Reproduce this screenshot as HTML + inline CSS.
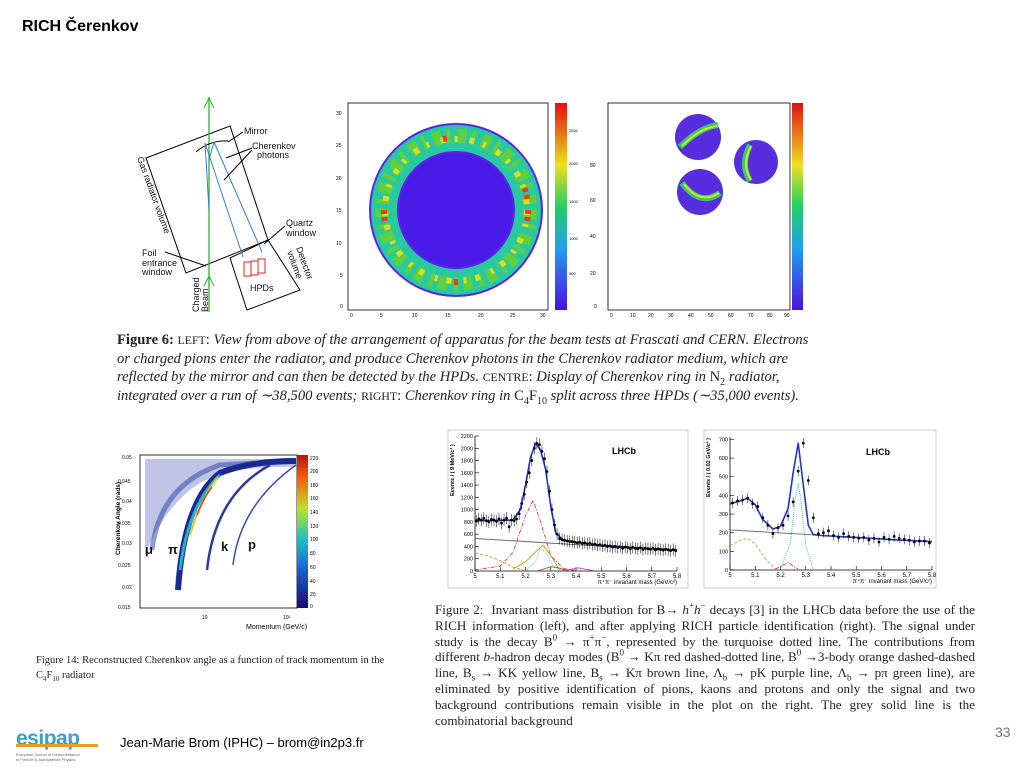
<!DOCTYPE html>
<html><head><meta charset="utf-8">
<style>
html,body{margin:0;padding:0;background:#fff;}
body{width:1024px;height:768px;position:relative;overflow:hidden;font-family:"Liberation Sans",sans-serif;}
.cap{position:absolute;font-family:"Liberation Serif",serif;color:#222;}
.cap sup,.cap sub{line-height:0;}
svg text{font-family:"Liberation Sans",sans-serif;}
</style></head>
<body>
<div style="position:absolute;left:22px;top:18px;font-size:16px;font-weight:bold;">RICH Čerenkov</div>

<!-- Apparatus diagram -->
<svg style="position:absolute;left:0;top:0" width="340" height="320">
 <polygon points="146,158 230,126 268,240 186,273" fill="none" stroke="#000" stroke-width="1"/>
 <polygon points="230,258 268,240 300,290 247,310" fill="none" stroke="#000" stroke-width="1"/>
 <line x1="209" y1="97" x2="209" y2="312" stroke="#2bb52b" stroke-width="1.3"/>
 <polyline points="204,108 209,98 214,108" fill="none" stroke="#2bb52b"/>
 <polyline points="204,286 209,276 214,286" fill="none" stroke="#2bb52b"/>
 <path d="M196,152 Q210,140 228,141" fill="none" stroke="#000"/>
 <polyline points="205,143 243,257" fill="none" stroke="#3a7bd5"/>
 <polyline points="214,142 262,252" fill="none" stroke="#3a7bd5"/>
 <polyline points="205,143 209,210" fill="none" stroke="#3a7bd5"/>
 <polyline points="214,142 209,160" fill="none" stroke="#3a7bd5"/>
 <g fill="none" stroke="#e02020"><rect x="244" y="262" width="7" height="14"/><rect x="251" y="261" width="7" height="14"/><rect x="258" y="259" width="7" height="14"/></g>
 <g font-family="Liberation Serif" font-size="9" fill="#111">
  <text x="244" y="134">Mirror</text>
  <text x="252" y="149">Cherenkov</text><text x="257" y="158">photons</text>
  <text x="286" y="226">Quartz</text><text x="286" y="236">window</text>
  <text x="142" y="256">Foil</text><text x="142" y="266">entrance</text><text x="142" y="275">window</text>
  <text x="250" y="291">HPDs</text>
  <text transform="translate(137,158) rotate(70)">Gas radiator volume</text>
  <text transform="translate(296,248) rotate(70)">Detector</text><text transform="translate(287,252) rotate(70)">volume</text>
  <text transform="translate(199,312) rotate(-90)">Charged</text><text transform="translate(208,312) rotate(-90)">Beam</text>
 </g>
 <g stroke="#000" fill="none"><line x1="243" y1="132" x2="228" y2="142"/><line x1="252" y1="148" x2="226" y2="158"/><line x1="252" y1="150" x2="224" y2="180"/><line x1="285" y1="226" x2="264" y2="244"/><line x1="165" y1="252" x2="206" y2="266"/></g>
</svg>

<!-- Centre ring image -->
<svg style="position:absolute;left:330px;top:95px" width="250" height="230">
 <rect x="18" y="8" width="200" height="207" fill="#fff" stroke="#000" stroke-width="0.8"/>
 <circle cx="126" cy="115" r="87" fill="#5a24e8"/>
 <circle cx="126" cy="115" r="72" fill="none" stroke="#28c8a0" stroke-width="26"/>
 <circle cx="126" cy="115" r="74" fill="none" stroke="#60d040" stroke-width="14" stroke-dasharray="9 5 4 7"/>
 <circle cx="126" cy="115" r="71" fill="none" stroke="#d8e020" stroke-width="6" stroke-dasharray="5 9 3 12"/>
 <circle cx="126" cy="115" r="72" fill="none" stroke="#e84018" stroke-width="6" stroke-dasharray="4 3 4 100 4 100"/>
 <circle cx="126" cy="115" r="57" fill="#4a1be8"/>
 <g font-size="5" fill="#000"><text x="6" y="20">30</text><text x="6" y="52">25</text><text x="6" y="85">20</text><text x="6" y="117">15</text><text x="6" y="150">10</text><text x="10" y="182">5</text><text x="10" y="213">0</text>
 <text x="20" y="222">0</text><text x="50" y="222">5</text><text x="82" y="222">10</text><text x="115" y="222">15</text><text x="148" y="222">20</text><text x="180" y="222">25</text><text x="210" y="222">30</text></g>
 <defs><linearGradient id="cb" x1="0" y1="1" x2="0" y2="0"><stop offset="0" stop-color="#4a10e0"/><stop offset="0.3" stop-color="#20a0f0"/><stop offset="0.5" stop-color="#20d060"/><stop offset="0.7" stop-color="#f0e020"/><stop offset="1" stop-color="#e01010"/></linearGradient></defs>
 <rect x="225" y="8" width="12" height="207" fill="url(#cb)"/>
 <g font-size="4" fill="#000"><text x="239" y="37">2500</text><text x="239" y="70">2000</text><text x="239" y="108">1500</text><text x="239" y="145">1000</text><text x="239" y="180">500</text></g>
</svg>

<!-- Right ring image -->
<svg style="position:absolute;left:590px;top:95px" width="230" height="230">
 <rect x="18" y="8" width="182" height="207" fill="#fff" stroke="#000" stroke-width="0.8"/>
 <g fill="#5a2ce0"><circle cx="108" cy="42" r="23"/><circle cx="166" cy="67" r="22"/><circle cx="110" cy="97" r="23"/></g>
 <g fill="none" stroke-width="6" stroke="#2ad070"><path d="M90,52 Q110,32 128,30"/><path d="M160,50 Q150,70 160,86"/><path d="M92,88 Q110,112 130,98"/></g>
 <g fill="none" stroke-width="2" stroke="#e0e020"><path d="M92,51 Q110,33 127,31"/><path d="M161,51 Q151,70 161,85"/><path d="M94,89 Q110,110 129,98"/></g>
 <g font-size="5" fill="#000"><text x="0" y="72">80</text><text x="0" y="107">60</text><text x="0" y="143">40</text><text x="0" y="180">20</text><text x="4" y="213">0</text>
 <text x="20" y="222">0</text><text x="40" y="222">10</text><text x="58" y="222">20</text><text x="78" y="222">30</text><text x="98" y="222">40</text><text x="118" y="222">50</text><text x="138" y="222">60</text><text x="158" y="222">70</text><text x="177" y="222">80</text><text x="194" y="222">90</text></g>
 <rect x="202" y="8" width="11" height="207" fill="url(#cb)"/>
</svg>

<div class="cap" style="left:117px;top:331px;width:706px;font-size:14.6px;line-height:18.5px;">
<b>Figure 6:</b> <span style="font-size:11.8px">LEFT</span>: <i>View from above of the arrangement of apparatus for the beam tests at Frascati and CERN. Electrons or charged pions enter the radiator, and produce Cherenkov photons in the Cherenkov radiator medium, which are reflected by the mirror and can then be detected by the HPDs.</i> <span style="font-size:11.8px">CENTRE</span>: <i>Display of Cherenkov ring in</i> N<sub style="font-size:10px">2</sub> <i>radiator, integrated over a run of ∼38,500 events;</i> <span style="font-size:11.8px">RIGHT</span>: <i>Cherenkov ring in</i> C<sub style="font-size:10px">4</sub>F<sub style="font-size:10px">10</sub> <i>split across three HPDs (∼35,000 events).</i>
</div>

<!-- Cherenkov angle vs momentum -->
<svg style="position:absolute;left:100px;top:445px" width="240" height="195">
 <rect x="40" y="10" width="157" height="153" fill="#fff" stroke="#000" stroke-width="0.8"/>
 <path d="M45,14 L196,14 L196,22 Q120,20 90,45 Q60,70 45,110 Z" fill="#3040b0" opacity="0.3"/>
 <path d="M52,105 Q60,40 120,20 L196,16" fill="none" stroke="#2a3aa0" stroke-width="5" opacity="0.5"/>
 <path d="M78,145 Q84,55 120,28 Q150,16 196,16" fill="none" stroke="#1a2a90" stroke-width="6"/>
 <path d="M80,125 Q88,60 120,30" fill="none" stroke="#20b0d0" stroke-width="3"/>
 <path d="M90,90 Q100,55 118,32" fill="none" stroke="#f0c020" stroke-width="2"/>
 <path d="M97,70 Q104,52 112,42" fill="none" stroke="#e04020" stroke-width="1.5"/>
 <path d="M107,125 Q115,50 170,20" fill="none" stroke="#2a3aa0" stroke-width="2.5"/>
 <path d="M133,120 Q140,60 196,20" fill="none" stroke="#3a4ab0" stroke-width="1.5"/>
 <g font-size="5" fill="#000"><text x="22" y="14">0.05</text><text x="18" y="38">0.045</text><text x="22" y="58">0.04</text><text x="18" y="80">0.035</text><text x="22" y="100">0.03</text><text x="18" y="122">0.025</text><text x="22" y="144">0.02</text><text x="18" y="164">0.015</text><text x="102" y="174">10</text><text x="183" y="174">10²</text></g>
 <text x="146" y="184" font-size="7">Momentum (GeV/c)</text>
 <text transform="translate(20,110) rotate(-90)" font-size="6.5" font-weight="bold">Cherenkov Angle (rads)</text>
 <g font-size="13" font-weight="bold" fill="#111"><text x="45" y="109">μ</text><text x="68" y="109">π</text><text x="121" y="106">k</text><text x="148" y="104">p</text></g>
 <defs><linearGradient id="cb2" x1="0" y1="1" x2="0" y2="0"><stop offset="0" stop-color="#1a0a70"/><stop offset="0.25" stop-color="#1a60d0"/><stop offset="0.45" stop-color="#20c0c0"/><stop offset="0.65" stop-color="#c0e020"/><stop offset="0.85" stop-color="#f06010"/><stop offset="1" stop-color="#c01010"/></linearGradient></defs>
 <rect x="197" y="10" width="11" height="153" fill="url(#cb2)"/>
 <g font-size="5" fill="#000"><text x="210" y="15">220</text><text x="210" y="28">200</text><text x="210" y="42">180</text><text x="210" y="55">160</text><text x="210" y="69">140</text><text x="210" y="83">120</text><text x="210" y="96">100</text><text x="210" y="110">80</text><text x="210" y="124">60</text><text x="210" y="138">40</text><text x="210" y="151">20</text><text x="210" y="163">0</text></g>
</svg>
<div class="cap" style="left:36px;top:653px;width:370px;font-size:10.5px;line-height:15px;">Figure 14: Reconstructed Cherenkov angle as a function of track momentum in the C<sub style="font-size:7px">4</sub>F<sub style="font-size:7px">10</sub> radiator</div>

<!-- Mass plots -->
<svg id="mass" style="position:absolute;left:0;top:0" width="1024" height="600"></svg>

<div class="cap" style="left:435px;top:602px;width:540px;font-size:13.1px;line-height:15.8px;text-align:justify;">Figure 2: &nbsp;Invariant mass distribution for B→ <i>h</i><sup style="font-size:9px">+</sup><i>h</i><sup style="font-size:9px">−</sup> decays [3] in the LHCb data before the use of the RICH information (left), and after applying RICH particle identification (right). The signal under study is the decay B<sup style="font-size:9px">0</sup> → π<sup style="font-size:9px">+</sup>π<sup style="font-size:9px">−</sup>, represented by the turquoise dotted line. The contributions from different <i>b</i>-hadron decay modes (B<sup style="font-size:9px">0</sup> → Kπ red dashed-dotted line, B<sup style="font-size:9px">0</sup> →3-body orange dashed-dashed line, B<sub style="font-size:9px">s</sub> → KK yellow line, B<sub style="font-size:9px">s</sub> → Kπ brown line, Λ<sub style="font-size:9px">b</sub> → pK purple line, Λ<sub style="font-size:9px">b</sub> → pπ green line), are eliminated by positive identification of pions, kaons and protons and only the signal and two background contributions remain visible in the plot on the right. The grey solid line is the combinatorial background</div>

<div style="position:absolute;left:995px;top:724px;font-size:14px;color:#777;">33</div>
<div style="position:absolute;left:16px;top:728px;width:100px;height:36px;">
 <div style="font-size:21px;font-weight:bold;color:#3aa0c8;letter-spacing:-0.5px;line-height:22px;">esipap</div>
 <div style="position:absolute;left:0;top:16px;width:82px;height:3px;background:#e8a020;"></div>
 <div style="font-size:4px;color:#666;margin-top:2px;line-height:5px;">European School of Instrumentation<br>in Particle &amp; Astroparticle Physics</div>
</div>
<div style="position:absolute;left:120px;top:735px;font-size:13px;">Jean-Marie Brom (IPHC) – brom@in2p3.fr</div>

<script>
// Left plot data (bins of 0.01 GeV)
const leftX0 = 5.0, leftStep = 0.01;
const leftData = [820,850,830,860,820,800,840,830,810,850,780,830,860,720,830,820,850,930,1100,1250,1450,1600,1800,2000,2080,2060,1950,1830,1620,1300,1000,750,600,530,510,500,490,480,480,470,460,470,450,460,440,455,430,440,420,430,410,420,400,410,390,400,380,395,370,390,380,360,385,370,360,380,350,370,360,355,370,345,360,350,340,355,345,330,350,330];
const leftFitX = [5.0,5.1,5.15,5.18,5.2,5.22,5.24,5.26,5.28,5.3,5.32,5.35,5.4,5.5,5.6,5.7,5.8];
const leftFit  = [820,825,830,1000,1400,1850,2080,1970,1650,1050,620,500,465,420,390,365,340];
const leftCombX = [5.0,5.8]; const leftComb = [530,330];
const leftRedX = [5.0,5.1,5.15,5.2,5.23,5.26,5.3,5.35,5.4]; const leftRed = [20,80,300,900,1150,800,250,40,5];
const leftOrX = [5.0,5.05,5.1,5.15,5.2]; const leftOr = [290,250,170,60,5];
const leftYelX = [5.15,5.2,5.25,5.27,5.3,5.33,5.36]; const leftYel = [30,150,350,420,250,50,5];
const leftCyanX = [5.2,5.24,5.26,5.28,5.31,5.34]; const leftCyan = [5,150,380,300,80,5];
const leftBrX = [5.25,5.3,5.33,5.37]; const leftBr = [5,70,50,5];
const leftPuX = [5.35,5.41,5.47]; const leftPu = [5,50,5];
const leftYTicks = [0,200,400,600,800,1000,1200,1400,1600,1800,2000,2200];
// Right plot data (bins of 0.02 GeV)
const rightX0 = 5.0, rightStep = 0.02;
const rightData = [360,370,375,385,355,340,280,240,195,225,240,290,365,530,680,480,280,195,200,210,185,175,195,180,175,170,175,160,170,150,175,165,180,170,165,160,150,155,155,145];
const rightFitX = [5.0,5.04,5.07,5.1,5.13,5.17,5.2,5.23,5.25,5.27,5.29,5.31,5.33,5.36,5.5,5.65,5.8];
const rightFit  = [355,370,385,350,270,220,235,330,520,680,460,240,190,185,175,162,152];
const rightCombX = [5.0,5.8]; const rightComb = [215,150];
const rightOrX = [5.0,5.04,5.07,5.1,5.14,5.18]; const rightOr = [130,160,170,140,60,5];
const rightRedX = [5.18,5.23,5.27]; const rightRed = [5,40,5];
const rightCyanX = [5.2,5.24,5.26,5.27,5.28,5.3,5.33]; const rightCyan = [5,150,400,465,380,130,5];
const rightYTicks = [0,100,200,300,400,500,600,700];
const xTicks = [5,5.1,5.2,5.3,5.4,5.5,5.6,5.7,5.8];

const svg = document.getElementById('mass');
const NS = 'http://www.w3.org/2000/svg';
function mk(tag, attrs){const e=document.createElementNS(NS,tag);for(const k in attrs)e.setAttribute(k,attrs[k]);svg.appendChild(e);return e;}

function plot(P){
  const sx = v => P.x0 + (v-5)/0.8*(P.x1-P.x0);
  const sy = v => P.y0 - v/P.ymax*(P.y0-P.y1);
  const f = mk('rect',{x:P.fx,y:P.fy,width:P.fw,height:P.fh,fill:'#fff',stroke:'#aaa','stroke-width':0.6});
  
  
  mk('line',{x1:P.x0,y1:P.y0,x2:P.x1,y2:P.y0,stroke:'#000','stroke-width':0.8});
  mk('line',{x1:P.x0,y1:P.y0,x2:P.x0,y2:P.y1,stroke:'#000','stroke-width':0.8});
  xTicks.forEach(t=>{const x=sx(t);mk('line',{x1:x,y1:P.y0,x2:x,y2:P.y0-4,stroke:'#000','stroke-width':0.6});
    const tx=mk('text',{x:x,y:P.y0+7,'font-size':6,'text-anchor':'middle'});tx.textContent=String(t);
    
    });
  P.yt.forEach(t=>{const y=sy(t);mk('line',{x1:P.x0,y1:y,x2:P.x0+4,y2:y,stroke:'#000','stroke-width':0.6});
    const tx=mk('text',{x:P.x0-2,y:y+2,'font-size':5.5,'text-anchor':'end'});tx.textContent=String(t);
    
    });
  const xl=mk('text',{x:P.x1,y:P.y0+13,'font-size':6,'text-anchor':'end'});xl.textContent='π⁺π⁻ invariant mass (GeV/c²)';
  
  
  const yl=mk('text',{transform:`translate(${P.fx+6},${P.y1+60}) rotate(-90)`,'font-size':5.5,'font-weight':'bold'});yl.textContent=P.ylab;
  
  
  const lh=mk('text',{x:P.lx,y:P.y1+18,'font-size':9,'font-weight':'bold'});lh.textContent='LHCb';
  
  
  function curve(xs,ys,color,w,dash,nm){
    const d=xs.map((x,i)=>(i?'L':'M')+sx(x).toFixed(1)+','+sy(ys[i]).toFixed(1)).join(' ');
    const p=mk('path',{d:d,fill:'none',stroke:color,'stroke-width':w,'stroke-dasharray':dash||'','stroke-linejoin':'round'});
    
    
  }
  P.comps.forEach(c=>curve(c[0],c[1],c[2],c[3],c[4],c[5]));
  curve(P.fitX,P.fit,'#2233cc',1.6,'','fit-curve');
  P.data.forEach((v,i)=>{const x=sx(P.dx0+(i+0.5)*P.dstep),y=sy(v);
    mk('line',{x1:x,y1:y-P.err,x2:x,y2:y+P.err,stroke:'#000','stroke-width':0.5});
    const c=mk('circle',{cx:x,cy:y,r:1.4,fill:'#000'});
    
    });
}
plot({name:'left-mass-plot',fx:448,fy:430,fw:240,fh:158,x0:475,x1:677,y0:571,y1:436,ymax:2200,yt:leftYTicks,lx:612,
 ylab:'Events / ( 9 MeV/c² )',data:leftData,dx0:leftX0,dstep:leftStep,err:6,fitX:leftFitX,fit:leftFit,
 comps:[[leftCombX,leftComb,'#666',0.9,'','combinatorial-bkg'],[leftOrX,leftOr,'#e08030',0.8,'3,2','b0-3body'],[leftRedX,leftRed,'#e02020',0.8,'4,1.5,1,1.5','b0-kpi'],
  [leftYelX,leftYel,'#b0b010',1,'','bs-kk'],[leftCyanX,leftCyan,'#40c0d0',0.8,'1,1','b0-pipi'],[leftBrX,leftBr,'#8a4a20',0.8,'','bs-kpi'],[leftPuX,leftPu,'#c030c0',0.8,'','lb-pk']]});
plot({name:'right-mass-plot',fx:704,fy:430,fw:232,fh:158,x0:730,x1:932,y0:570,y1:437,ymax:713,yt:rightYTicks,lx:866,
 ylab:'Events / ( 0.02 GeV/c² )',data:rightData,dx0:rightX0,dstep:rightStep,err:5,fitX:rightFitX,fit:rightFit,
 comps:[[rightCombX,rightComb,'#666',0.9,'','combinatorial-bkg'],[rightOrX,rightOr,'#e08030',0.8,'3,2','b0-3body'],[rightRedX,rightRed,'#e02020',0.8,'4,1.5,1,1.5','b0-kpi'],
  [rightCyanX,rightCyan,'#40b0c0',0.9,'1,1','b0-pipi']]});
</script>
</body></html>
